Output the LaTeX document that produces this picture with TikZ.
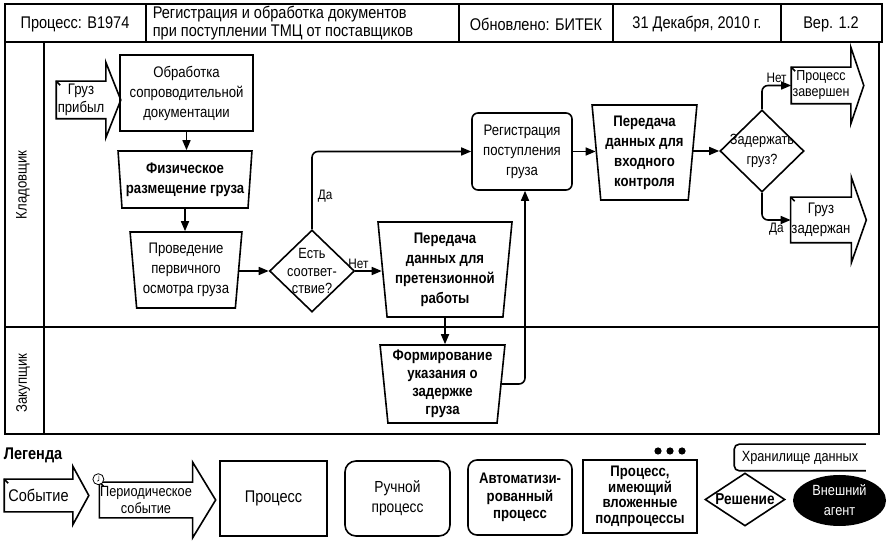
\documentclass[tikz,border=0pt]{standalone}
\usepackage{fontspec}
\setmainfont{Liberation Sans}[FakeStretch=0.86]
\usetikzlibrary{arrows.meta,shapes.geometric,calc}

% event arrow round a node: name, head extend, head length
\newcommand{\evarrow}[3]{%
  \draw (#1.north west) -- (#1.north east) -- ++(0,#2) -- ($(#1.east)+(#3,0)$)
    -- ($(#1.south east)+(0,-#2)$) -- (#1.south east) -- (#1.south west) -- cycle;
  \draw (#1.north west) -- ++(4,-4);}

\begin{document}
\begin{tikzpicture}[x=1pt,y=1pt,line width=1.6pt,>={Triangle[length=10pt,width=8pt]},
  font=\fontsize{15.3}{20}\selectfont,
  bold/.style={font=\fontsize{15.3}{20}\selectfont\bfseries},
  head/.style={font=\fontsize{16.9}{17.5}\selectfont,inner sep=0pt},
  proc/.style={draw,align=center,inner sep=1pt},
  autoproc/.style={proc,rounded corners=6pt},
  manual/.style={draw,trapezium,shape border rotate=180,trapezium left angle=84,
    trapezium right angle=84,trapezium stretches=true,align=center,inner sep=1pt},
  decision/.style={draw,diamond,inner sep=0pt},
  event/.style={align=center,inner sep=0pt},
  lbl/.style={font=\fontsize{13.7}{15}\selectfont,inner sep=2pt}]

 \useasboundingbox (0,0) rectangle (889,541);

 % header
 \draw (5,537) rectangle (882,499);
 \foreach \x in {146,459,613,781} \draw (\x,537) -- (\x,499);
 \node[head] (hproc) at (75,517) {Процесс: B1974};
 \node[head,align=left,anchor=west] (htitle) at (152,518) {Регистрация и обработка документов\\при поступлении ТМЦ от поставщиков};
 \node[head] (hupd) at (536,517) {Обновлено: БИТЕК};
 \node[head] (hdate) at (697,517) {31 Декабря, 2010 г.};
 \node[head] (hver) at (831,517) {Вер. 1.2};

 % lanes
 \draw (5,499) rectangle (879,107);
 \draw (44,499) -- (44,107);
 \draw (5,214) -- (879,214);
 \node[rotate=90] (lstore) at (23,356) {Кладовщик};
 \node[rotate=90] (lbuy) at (23,158) {Закупщик};

 % storekeeper
 \node[event,minimum width=48pt,minimum height=36pt,font=\fontsize{15.3}{18}\selectfont] (arr) at (81,441) {Груз\\прибыл};
 \evarrow{arr}{19}{15}
 \node[proc,minimum width=133pt,minimum height=76pt] (docs) at (186.5,448) {Обработка\\сопроводительной\\документации};
 \node[manual,bold,minimum width=134pt,minimum height=57pt] (place) at (185,361.5) {Физическое\\размещение груза};
 \node[manual,minimum width=112pt,minimum height=76pt] (insp) at (186,271) {Проведение\\первичного\\осмотра груза};
 \node[decision,minimum width=85pt,minimum height=82pt,
   label={[align=center,font=\fontsize{14.8}{17.5}\selectfont]center:Есть\\соответ-\\ствие?}] (match) at (312,270) {};
 \node[autoproc,minimum width=100pt,minimum height=77pt] (reg) at (522,389.5) {Регистрация\\поступления\\груза};
 \node[manual,bold,minimum width=134pt,minimum height=95pt] (claim) at (445,271.5) {Передача\\данных для\\претензионной\\работы};
 \node[manual,bold,minimum width=105pt,minimum height=95pt] (ctrl) at (644.5,388.5) {Передача\\данных для\\входного\\контроля};
 \node[decision,minimum width=84pt,minimum height=82pt,
   label={[align=center,font=\fontsize{14.8}{20}\selectfont]center:Задержать\\груз?}] (delay) at (762,390) {};
 \node[event,minimum width=58pt,minimum height=35pt,font=\fontsize{14.5}{16}\selectfont] (done) at (821,455.5) {Процесс\\завершен};
 \evarrow{done}{20}{13}
 \node[event,minimum width=58pt,minimum height=44pt] (held) at (821,321) {Груз\\задержан};
 \evarrow{held}{20}{15}

 % buyer
 \node[manual,minimum width=125pt,minimum height=78pt,font=\fontsize{15.3}{18}\selectfont\bfseries] (hold) at (442.5,157) {Формирование\\указания о\\задержке\\груза};

 \draw[->] (docs.south) -- (docs.south |- place.north);
 \draw[->] (place.south) -- (place.south |- insp.north);
 \draw[->] (insp.east |- match.west) -- (match.west);
 \draw[->,rounded corners=6pt] (match.north) |- node[lbl,right=3pt,pos=0.21] {Да} (reg.west);
 \draw[->] (match.east) -- node[lbl,above,pos=0.12] {Нет} (match.east -| claim.west);
 \draw[->] (claim.south) -- (claim.south |- hold.north);
 \draw[->,rounded corners=6pt] (hold.east) -| ([xshift=3pt]reg.south);
 \draw[->] (reg.east) -- (reg.east -| ctrl.west);
 \draw[->] (ctrl.east |- delay.west) -- (delay.west);
 \draw[->,rounded corners=6pt] (delay.north) |- node[lbl,above,pos=0.75] {Нет} (done.west);
 \draw[->,rounded corners=6pt] (delay.south) |- node[lbl,below,pos=0.75] {Да} (held.west);

 % legend
 \node[anchor=west,inner sep=0pt,font=\fontsize{16.9}{18}\selectfont\bfseries] (legend) at (3,86) {Легенда};
 \node[event,minimum width=67pt,minimum height=31pt,font=\fontsize{16.9}{18}\selectfont] (lev) at (38.5,45.5) {Событие};
 \evarrow{lev}{13}{16}
 \node[event,minimum width=88pt,minimum height=34pt,font=\fontsize{14.8}{17}\selectfont] (lper) at (146,41) {Периодическое\\событие};
 \evarrow{lper}{20}{23}
 \draw[fill=white,line width=0.8pt] ([shift={(-1,3)}]lper.north west) circle (5.5);
 \draw[line width=0.7pt] ([shift={(-1,3)}]lper.north west) ++(0.5,3.5) -- ++(0,-4.5) -- ++(-1.5,-1);
 \node[proc,minimum width=107pt,minimum height=75pt,font=\fontsize{16.9}{18}\selectfont] (lproc) at (273.5,42.5) {Процесс};
 \node[proc,rounded corners=11pt,minimum width=105pt,minimum height=75pt,font=\fontsize{16}{20}\selectfont] (lman) at (397.5,42.5) {Ручной\\процесс};
 \node[proc,rounded corners=9pt,minimum width=104pt,minimum height=75pt,font=\fontsize{15.3}{17.5}\selectfont\bfseries] (lauto) at (520,43.5) {Автоматизи-\\рованный\\процесс};
 \node[proc,minimum width=114pt,minimum height=73pt,font=\fontsize{15.3}{15.5}\selectfont\bfseries] (lsub) at (640,44.5) {Процесс,\\имеющий\\вложенные\\подпроцессы};
 \foreach \x in {658,670,682} \fill (\x,90) circle (3.6);
 \node[inner sep=0pt,minimum width=130pt,minimum height=25pt,font=\fontsize{14.8}{16}\selectfont] (lstorage) at (800,83.5) {Хранилище данных};
 \draw[rounded corners=5pt] (lstorage.north east) -- (lstorage.north west) -- (lstorage.south west) -- (lstorage.south east);
 \node[decision,minimum width=80pt,minimum height=53pt,
   label={[font=\fontsize{15.8}{17}\selectfont\bfseries]center:Решение}] (ldec) at (745,41.5) {};
 \node[ellipse,fill=black,text=white,align=center,inner sep=0pt,minimum width=93pt,minimum height=51pt,
   font=\fontsize{14.8}{20}\selectfont] (lext) at (839.5,40.5) {Внешний\\агент};
\end{tikzpicture}
\end{document}
